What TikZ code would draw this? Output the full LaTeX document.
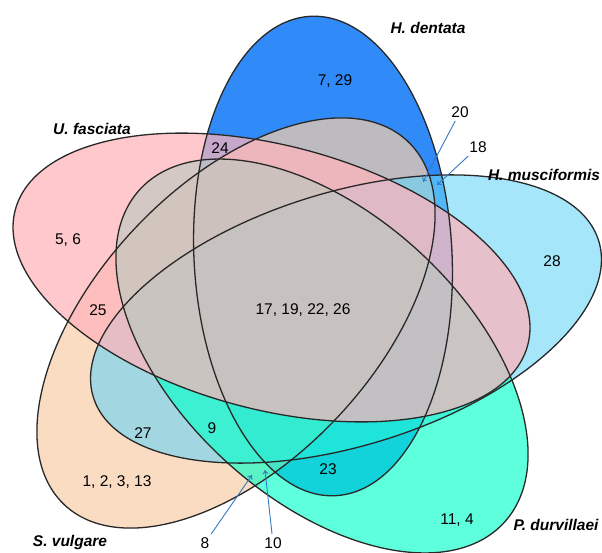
\documentclass[tikz,border=0pt]{standalone}
\usepackage{fontspec}
\setmainfont{Liberation Sans}
\usetikzlibrary{arrows.meta}
\definecolor{dentata}{RGB}{48,138,248}
\definecolor{vulgare}{RGB}{248,206,170}
\definecolor{musciformis}{RGB}{105,213,247}
\definecolor{durvillaei}{RGB}{0,255,200}
\definecolor{fasciata}{RGB}{255,180,187}
\definecolor{outline}{RGB}{40,40,40}
\definecolor{pointer}{RGB}{50,120,195}
\begin{document}
\begin{tikzpicture}[x=1pt, y=1pt,
    ring/.style={draw=outline, line width=1.3pt},
    num/.style={font=\fontsize{15.5}{18}\selectfont},
    species/.style={font=\fontsize{15.5}{18}\selectfont\bfseries\itshape},
    arrowline/.style={draw=pointer, line width=0.9pt, -{To[length=4pt, width=6pt]}}]
\useasboundingbox (0,0) rectangle (602,552);
% the five sets, filled first
\fill [dentata, rotate around={3:(323,296)}] (323,296) ellipse (129 and 240);
\fill [vulgare, fill opacity=0.71, rotate around={46.6:(236,229)}] (236,229) ellipse (250 and 138.5);
\fill [musciformis, fill opacity=0.6, rotate around={17.2:(346,233)}] (346,233) ellipse (264.5 and 126.7);
\fill [durvillaei, fill opacity=0.63, rotate around={-42.4:(322,196)}] (322,196) ellipse (246.8 and 142.6);
\fill [fasciata, fill opacity=0.73, rotate around={-14.75:(271.5,274.5)}] (271.5,274.5) ellipse (265 and 132);
% outlines on top
\draw [ring, rotate around={3:(323,296)}] (323,296) ellipse (129 and 240);
\draw [ring, rotate around={46.6:(236,229)}] (236,229) ellipse (250 and 138.5);
\draw [ring, rotate around={17.2:(346,233)}] (346,233) ellipse (264.5 and 126.7);
\draw [ring, rotate around={-42.4:(322,196)}] (322,196) ellipse (246.8 and 142.6);
\draw [ring, rotate around={-14.75:(271.5,274.5)}] (271.5,274.5) ellipse (265 and 132);
% set names
\node [species] (dent) at (428,524) {H. dentata};
\node [species] (fasc) at (92,423) {U. fasciata};
\node [species] (musc) at (544,377) {H. musciformis};
\node [species] (durv) at (556,27) {P. durvillaei};
\node [species] (vulg) at (70,10) {S. vulgare};
% counts
\node [num] (a) at (335,471) {7, 29};
\node [num] (b) at (220,404) {24};
\node [num] (c) at (68,312) {5, 6};
\node [num] (d) at (552,291) {28};
\node [num] (e) at (98,242) {25};
\node [num] (f) at (303,242) {17, 19, 22, 26};
\node [num] (g) at (143,119) {27};
\node [num] (h) at (212,124) {9};
\node [num] (i) at (328,83) {23};
\node [num] (j) at (117,70) {1, 2, 3, 13};
\node [num] (k) at (457,32) {11, 4};
\node [num] (n20) at (460,440) {20};
\node [num] (n18) at (478,405) {18};
\node [num] (n8) at (205,9) {8};
\node [num] (n10) at (273,9) {10};
\coordinate (t20) at (423,370);
\coordinate (t18) at (437,367);
\coordinate (t8) at (252,77);
\coordinate (t10) at (265,82);
\path [arrowline] (n20) edge (t20);
\path [arrowline] (n18) edge (t18);
\path [arrowline] (n8) edge (t8);
\path [arrowline] (n10) edge (t10);
\end{tikzpicture}
\end{document}
